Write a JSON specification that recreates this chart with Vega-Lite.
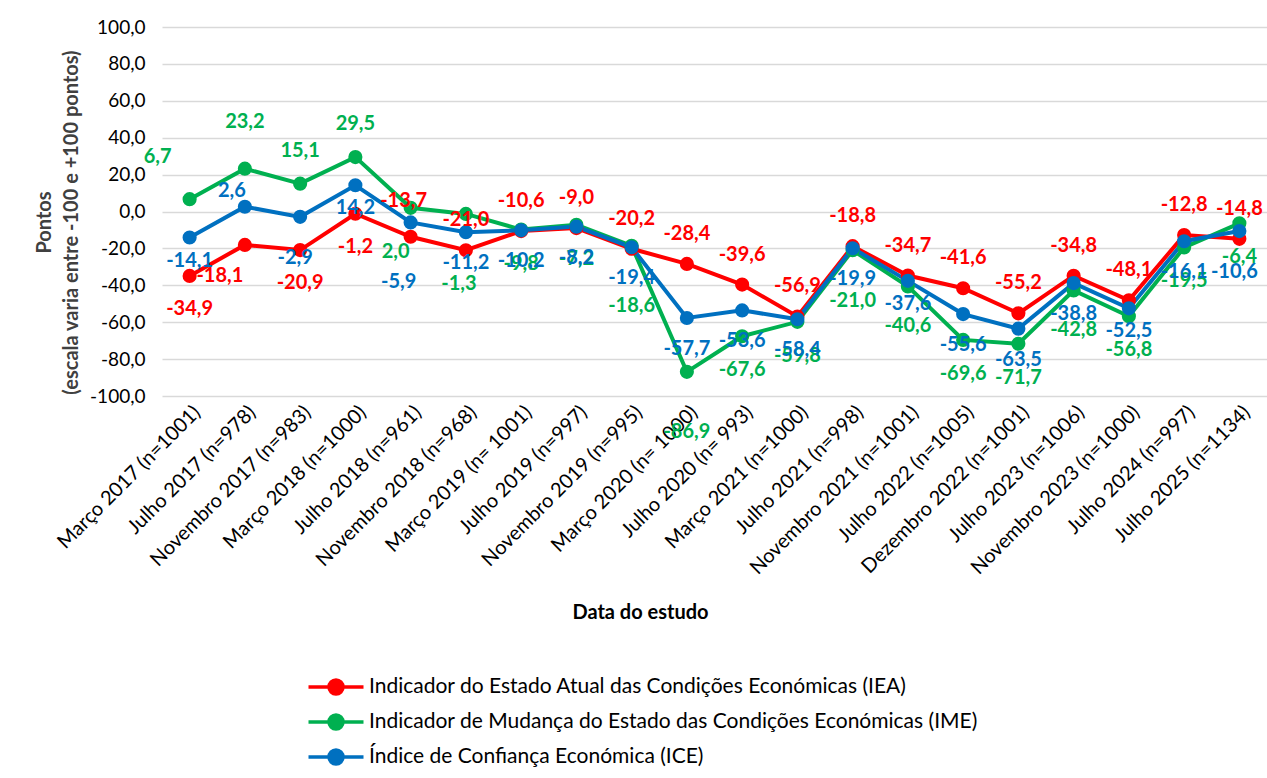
{
  "$schema": "https://vega.github.io/schema/vega-lite/v6.json",
  "width": 1105,
  "height": 369,
  "autosize": {"type": "none"},
  "padding": {"left": 162, "top": 27, "right": 0, "bottom": 382},
  "background": "white",
  "config": {
    "locale": {"number": {"decimal": ",", "thousands": ".", "grouping": [3], "currency": ["", " €"], "minus": "-"}},
    "view": {"stroke": null},
    "font": "Lato",
    "text": {"fontWeight": "bold", "fontSize": 20, "font": "Lato"}
  },
  "data": {"values": [
    {"d": "Março 2017 (n=1001)", "s": "IEA", "v": -34.9, "i": 1},
    {"d": "Julho 2017 (n=978)", "s": "IEA", "v": -18.1, "i": 2},
    {"d": "Novembro 2017 (n=983)", "s": "IEA", "v": -20.9, "i": 3},
    {"d": "Março 2018 (n=1000)", "s": "IEA", "v": -1.2, "i": 4},
    {"d": "Julho 2018 (n=961)", "s": "IEA", "v": -13.7, "i": 5},
    {"d": "Novembro 2018 (n=968)", "s": "IEA", "v": -21.0, "i": 6},
    {"d": "Março 2019 (n= 1001)", "s": "IEA", "v": -10.6, "i": 7},
    {"d": "Julho 2019 (n=997)", "s": "IEA", "v": -9.0, "i": 8},
    {"d": "Novembro 2019 (n=995)", "s": "IEA", "v": -20.2, "i": 9},
    {"d": "Março 2020 (n= 1000)", "s": "IEA", "v": -28.4, "i": 10},
    {"d": "Julho 2020 (n= 993)", "s": "IEA", "v": -39.6, "i": 11},
    {"d": "Março 2021 (n=1000)", "s": "IEA", "v": -56.9, "i": 12},
    {"d": "Julho 2021 (n=998)", "s": "IEA", "v": -18.8, "i": 13},
    {"d": "Novembro 2021 (n=1001)", "s": "IEA", "v": -34.7, "i": 14},
    {"d": "Julho 2022 (n=1005)", "s": "IEA", "v": -41.6, "i": 15},
    {"d": "Dezembro 2022 (n=1001)", "s": "IEA", "v": -55.2, "i": 16},
    {"d": "Julho 2023 (n=1006)", "s": "IEA", "v": -34.8, "i": 17},
    {"d": "Novembro 2023 (n=1000)", "s": "IEA", "v": -48.1, "i": 18},
    {"d": "Julho 2024 (n=997)", "s": "IEA", "v": -12.8, "i": 19},
    {"d": "Julho 2025 (n=1134)", "s": "IEA", "v": -14.8, "i": 20},
    {"d": "Março 2017 (n=1001)", "s": "IME", "v": 6.7, "i": 1},
    {"d": "Julho 2017 (n=978)", "s": "IME", "v": 23.2, "i": 2},
    {"d": "Novembro 2017 (n=983)", "s": "IME", "v": 15.1, "i": 3},
    {"d": "Março 2018 (n=1000)", "s": "IME", "v": 29.5, "i": 4},
    {"d": "Julho 2018 (n=961)", "s": "IME", "v": 2.0, "i": 5},
    {"d": "Novembro 2018 (n=968)", "s": "IME", "v": -1.3, "i": 6},
    {"d": "Março 2019 (n= 1001)", "s": "IME", "v": -9.8, "i": 7},
    {"d": "Julho 2019 (n=997)", "s": "IME", "v": -7.2, "i": 8},
    {"d": "Novembro 2019 (n=995)", "s": "IME", "v": -18.6, "i": 9},
    {"d": "Março 2020 (n= 1000)", "s": "IME", "v": -86.9, "i": 10},
    {"d": "Julho 2020 (n= 993)", "s": "IME", "v": -67.6, "i": 11},
    {"d": "Março 2021 (n=1000)", "s": "IME", "v": -59.8, "i": 12},
    {"d": "Julho 2021 (n=998)", "s": "IME", "v": -21.0, "i": 13},
    {"d": "Novembro 2021 (n=1001)", "s": "IME", "v": -40.6, "i": 14},
    {"d": "Julho 2022 (n=1005)", "s": "IME", "v": -69.6, "i": 15},
    {"d": "Dezembro 2022 (n=1001)", "s": "IME", "v": -71.7, "i": 16},
    {"d": "Julho 2023 (n=1006)", "s": "IME", "v": -42.8, "i": 17},
    {"d": "Novembro 2023 (n=1000)", "s": "IME", "v": -56.8, "i": 18},
    {"d": "Julho 2024 (n=997)", "s": "IME", "v": -19.5, "i": 19},
    {"d": "Julho 2025 (n=1134)", "s": "IME", "v": -6.4, "i": 20},
    {"d": "Março 2017 (n=1001)", "s": "ICE", "v": -14.1, "i": 1},
    {"d": "Julho 2017 (n=978)", "s": "ICE", "v": 2.6, "i": 2},
    {"d": "Novembro 2017 (n=983)", "s": "ICE", "v": -2.9, "i": 3},
    {"d": "Março 2018 (n=1000)", "s": "ICE", "v": 14.2, "i": 4},
    {"d": "Julho 2018 (n=961)", "s": "ICE", "v": -5.9, "i": 5},
    {"d": "Novembro 2018 (n=968)", "s": "ICE", "v": -11.2, "i": 6},
    {"d": "Março 2019 (n= 1001)", "s": "ICE", "v": -10.2, "i": 7},
    {"d": "Julho 2019 (n=997)", "s": "ICE", "v": -8.2, "i": 8},
    {"d": "Novembro 2019 (n=995)", "s": "ICE", "v": -19.4, "i": 9},
    {"d": "Março 2020 (n= 1000)", "s": "ICE", "v": -57.7, "i": 10},
    {"d": "Julho 2020 (n= 993)", "s": "ICE", "v": -53.6, "i": 11},
    {"d": "Março 2021 (n=1000)", "s": "ICE", "v": -58.4, "i": 12},
    {"d": "Julho 2021 (n=998)", "s": "ICE", "v": -19.9, "i": 13},
    {"d": "Novembro 2021 (n=1001)", "s": "ICE", "v": -37.6, "i": 14},
    {"d": "Julho 2022 (n=1005)", "s": "ICE", "v": -55.6, "i": 15},
    {"d": "Dezembro 2022 (n=1001)", "s": "ICE", "v": -63.5, "i": 16},
    {"d": "Julho 2023 (n=1006)", "s": "ICE", "v": -38.8, "i": 17},
    {"d": "Novembro 2023 (n=1000)", "s": "ICE", "v": -52.5, "i": 18},
    {"d": "Julho 2024 (n=997)", "s": "ICE", "v": -16.1, "i": 19},
    {"d": "Julho 2025 (n=1134)", "s": "ICE", "v": -10.6, "i": 20}
  ]},
  "encoding": {
    "x": {
      "field": "d", "type": "nominal", "sort": null,
      "scale": {"paddingInner": 0, "paddingOuter": 0.5},
      "axis": {
        "title": "Data do estudo", "titleFont": "Lato", "titleFontSize": 20, "titleFontWeight": "bold", "titleColor": "#000",
        "titleX": 478, "titleY": 216, "titleAnchor": null, "titleAlign": "center", "titleBaseline": "middle",
        "labelAngle": -45, "labelFontSize": 20, "labelColor": "#000", "labelFont": "Lato",
        "ticks": false, "domain": false, "grid": false, "labelPadding": 6, "labelLimit": 300, "labelOverlap": false
      }
    },
    "y": {
      "field": "v", "type": "quantitative",
      "scale": {"domain": [-100, 100], "nice": false, "zero": false},
      "axis": {
        "values": [-100, -80, -60, -40, -20, 0, 20, 40, 60, 80, 100],
        "format": ".1f",
        "title": ["Pontos", "(escala varia entre -100 e +100 pontos)"],
        "titleFont": "Lato", "titleFontSize": 20, "titleFontWeight": "bold", "titleColor": "#404040",
        "titleX": -128, "titleY": 195, "titleAngle": -90, "titleAlign": "center", "titleBaseline": "top", "titleLineHeight": 27,
        "labelFontSize": 19, "labelColor": "#000", "labelFont": "Lato", "labelPadding": 17,
        "ticks": false, "domain": false, "grid": true, "gridColor": "#D9D9D9", "gridWidth": 1.5
      }
    }
  },
  "layer": [
    {
      "mark": {"type": "line", "strokeWidth": 4},
      "encoding": {
        "color": {
          "field": "s", "type": "nominal",
          "scale": {"domain": ["IEA", "IME", "ICE"], "range": ["#FF0000", "#00B050", "#0070C0"]},
          "legend": {
            "orient": "none", "legendX": 162, "legendY": 648, "title": null, "direction": "vertical",
            "labelExpr": "datum.value == 'IEA' ? 'Indicador do Estado Atual das Condições Económicas (IEA)' : datum.value == 'IME' ? 'Indicador de Mudança do Estado das Condições Económicas (IME)' : 'Índice de Confiança Económica (ICE)'",
            "labelFont": "Lato", "labelFontSize": 21, "labelColor": "#000", "labelLimit": 900,
            "symbolType": "M-2.75,0H2.75M0.7,0A0.7,0.7 0 1 1 -0.7,0A0.7,0.7 0 1 1 0.7,0Z",
            "symbolSize": 400, "symbolStrokeWidth": 3.5, "rowPadding": 7, "labelOffset": 21,
            "encode": {"symbols": {"update": {"fill": {"scale": "color", "field": "value"}, "opacity": {"value": 1}}}}
          }
        }
      }
    },
    {
      "mark": {"type": "point", "filled": true, "size": 200, "opacity": 1},
      "encoding": {"color": {"field": "s", "type": "nominal", "legend": null}}
    },
    {"transform": [{"filter": {"and": [{"field": "s", "equal": "IEA"}, {"field": "i", "oneOf": [1, 3, 4]}]}}],
     "mark": {"type": "text", "color": "#FF0000", "dy": 33},
     "encoding": {"text": {"field": "v", "type": "quantitative", "format": ".1f"}}},
    {"transform": [{"filter": {"and": [{"field": "s", "equal": "IEA"}, {"field": "i", "oneOf": [2]}]}}],
     "mark": {"type": "text", "color": "#FF0000", "dy": 31, "dx": -25},
     "encoding": {"text": {"field": "v", "type": "quantitative", "format": ".1f"}}},
    {"transform": [{"filter": {"and": [{"field": "s", "equal": "IEA"}, {"field": "i", "oneOf": [5]}]}}],
     "mark": {"type": "text", "color": "#FF0000", "dy": -36, "dx": -7},
     "encoding": {"text": {"field": "v", "type": "quantitative", "format": ".1f"}}},
    {"transform": [{"filter": {"and": [{"field": "s", "equal": "IEA"}, {"field": "i", "oneOf": [6, 7, 8, 9, 10, 11, 12, 13, 14, 15, 16, 17, 18, 19, 20]}]}}],
     "mark": {"type": "text", "color": "#FF0000", "dy": -30},
     "encoding": {"text": {"field": "v", "type": "quantitative", "format": ".1f"}}},
    {"transform": [{"filter": {"and": [{"field": "s", "equal": "IME"}, {"field": "i", "oneOf": [1]}]}}],
     "mark": {"type": "text", "color": "#00B050", "dy": -42, "dx": -32},
     "encoding": {"text": {"field": "v", "type": "quantitative", "format": ".1f"}}},
    {"transform": [{"filter": {"and": [{"field": "s", "equal": "IME"}, {"field": "i", "oneOf": [2]}]}}],
     "mark": {"type": "text", "color": "#00B050", "dy": -47},
     "encoding": {"text": {"field": "v", "type": "quantitative", "format": ".1f"}}},
    {"transform": [{"filter": {"and": [{"field": "s", "equal": "IME"}, {"field": "i", "oneOf": [3, 4]}]}}],
     "mark": {"type": "text", "color": "#00B050", "dy": -33},
     "encoding": {"text": {"field": "v", "type": "quantitative", "format": ".1f"}}},
    {"transform": [{"filter": {"and": [{"field": "s", "equal": "IME"}, {"field": "i", "oneOf": [5]}]}}],
     "mark": {"type": "text", "color": "#00B050", "dy": 44, "dx": -15},
     "encoding": {"text": {"field": "v", "type": "quantitative", "format": ".1f"}}},
    {"transform": [{"filter": {"and": [{"field": "s", "equal": "IME"}, {"field": "i", "oneOf": [6]}]}}],
     "mark": {"type": "text", "color": "#00B050", "dy": 70, "dx": -7},
     "encoding": {"text": {"field": "v", "type": "quantitative", "format": ".1f"}}},
    {"transform": [{"filter": {"and": [{"field": "s", "equal": "IME"}, {"field": "i", "oneOf": [9, 10]}]}}],
     "mark": {"type": "text", "color": "#00B050", "dy": 60},
     "encoding": {"text": {"field": "v", "type": "quantitative", "format": ".1f"}}},
    {"transform": [{"filter": {"and": [{"field": "s", "equal": "IME"}, {"field": "i", "oneOf": [13]}]}}],
     "mark": {"type": "text", "color": "#00B050", "dy": 51},
     "encoding": {"text": {"field": "v", "type": "quantitative", "format": ".1f"}}},
    {"transform": [{"filter": {"and": [{"field": "s", "equal": "IME"}, {"field": "i", "oneOf": [14, 17]}]}}],
     "mark": {"type": "text", "color": "#00B050", "dy": 40},
     "encoding": {"text": {"field": "v", "type": "quantitative", "format": ".1f"}}},
    {"transform": [{"filter": {"and": [{"field": "s", "equal": "IME"}, {"field": "i", "oneOf": [7, 8, 11, 12, 15, 16, 18, 19, 20]}]}}],
     "mark": {"type": "text", "color": "#00B050", "dy": 34},
     "encoding": {"text": {"field": "v", "type": "quantitative", "format": ".1f"}}},
    {"transform": [{"filter": {"and": [{"field": "s", "equal": "ICE"}, {"field": "i", "oneOf": [2]}]}}],
     "mark": {"type": "text", "color": "#0070C0", "dy": -16, "dx": -13},
     "encoding": {"text": {"field": "v", "type": "quantitative", "format": ".1f"}}},
    {"transform": [{"filter": {"and": [{"field": "s", "equal": "ICE"}, {"field": "i", "oneOf": [1, 4, 14, 18]}]}}],
     "mark": {"type": "text", "color": "#0070C0", "dy": 23},
     "encoding": {"text": {"field": "v", "type": "quantitative", "format": ".1f"}}},
    {"transform": [{"filter": {"and": [{"field": "s", "equal": "ICE"}, {"field": "i", "oneOf": [3, 20]}]}}],
     "mark": {"type": "text", "color": "#0070C0", "dy": 41, "dx": -5},
     "encoding": {"text": {"field": "v", "type": "quantitative", "format": ".1f"}}},
    {"transform": [{"filter": {"and": [{"field": "s", "equal": "ICE"}, {"field": "i", "oneOf": [5]}]}}],
     "mark": {"type": "text", "color": "#0070C0", "dy": 60, "dx": -12},
     "encoding": {"text": {"field": "v", "type": "quantitative", "format": ".1f"}}},
    {"transform": [{"filter": {"and": [{"field": "s", "equal": "ICE"}, {"field": "i", "oneOf": [6, 7, 8, 9, 10, 11, 12, 13, 15, 16, 17, 19]}]}}],
     "mark": {"type": "text", "color": "#0070C0", "dy": 31},
     "encoding": {"text": {"field": "v", "type": "quantitative", "format": ".1f"}}}
  ]
}
